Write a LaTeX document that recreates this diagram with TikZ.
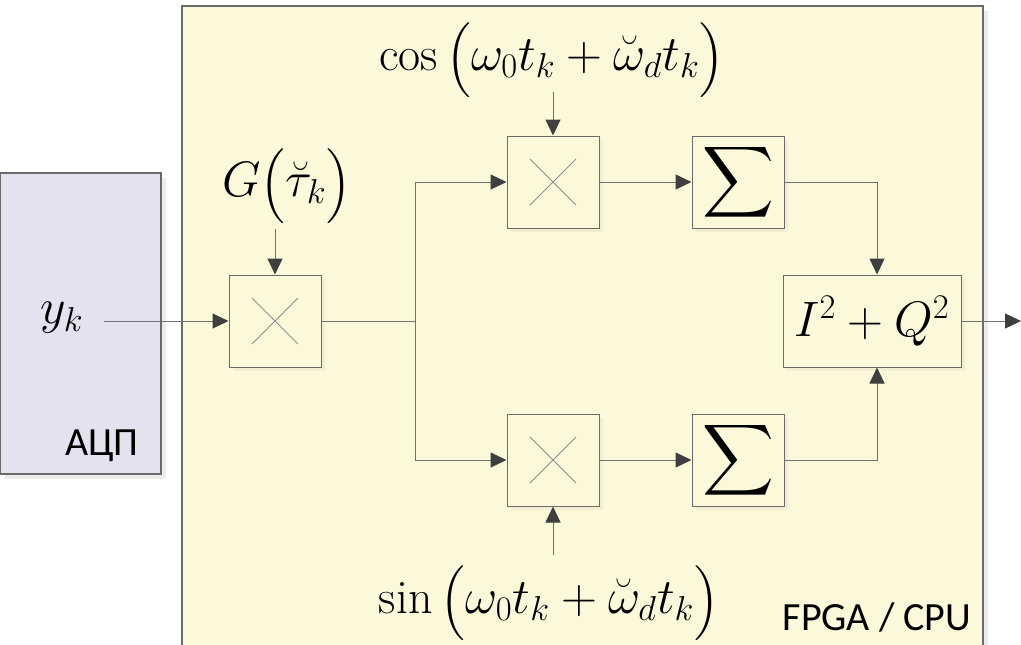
\documentclass[tikz,border=0pt]{standalone}
\usepackage{amsmath}
\usepackage{fontspec}
\newfontfamily\cpufont{Carlito}
\usepackage{tikz}
\usetikzlibrary{arrows.meta,shadows}
\definecolor{fpgafill}{HTML}{FCF8DA}
\definecolor{adcfill}{HTML}{E4E2EE}
\definecolor{framegray}{HTML}{6B6B6B}
\definecolor{wiregray}{HTML}{707070}
\definecolor{tipgray}{HTML}{3F3F3F}
\tikzset{
  panel/.style={draw=framegray, line width=0.6pt,
    drop shadow={shadow xshift=2.5pt, shadow yshift=-2.5pt, opacity=0.15}},
  block/.style={draw=framegray, fill=fpgafill, line width=0.5pt,
    minimum size=46pt, inner sep=0pt, font=\fontsize{24}{28}\selectfont,
    drop shadow={shadow xshift=2pt, shadow yshift=-2pt, opacity=0.08}},
  mult/.style={block, path picture={
      \draw[wiregray!80, line width=0.4pt]
        ([shift={(-11.5pt,-11.5pt)}]path picture bounding box.center) -- ++(23pt,23pt)
        ([shift={(-11.5pt,11.5pt)}]path picture bounding box.center) -- ++(23pt,-23pt);}},
  wire/.style={draw=wiregray, line width=0.5pt},
  sig/.style={wire, -{Triangle[length=8pt,width=7.5pt,color=tipgray]}},
  mathlbl/.style={font=\fontsize{24}{28}\selectfont, inner sep=0pt},
  cpulbl/.style={font=\cpufont\fontsize{20}{22}\selectfont, inner sep=0pt}
}
% parentheses of the labels
\newcommand{\lpar}{\mbox{\fontsize{21}{30}\selectfont$\Big($}}
\newcommand{\rpar}{\mbox{\fontsize{21}{30}\selectfont$\Big)$}}

\begin{document}
\begin{tikzpicture}[x=0.5pt, y=-0.5pt]

  \useasboundingbox (0,0) rectangle (1021,644);

  % FPGA / CPU area and ADC
  \path[panel, fill=fpgafill] (182,6) rectangle (983,670);
  \path[panel, fill=adcfill] (0,173) rectangle (161,474);
  \node[cpulbl] (adc) at (102,446) {АЦП};
  \node[cpulbl] (cpu) at (877,617) {FPGA / CPU};

  % blocks
  \node[mult] (mulg) at (275,321) {};
  \node[mult] (mulc) at (553,182) {};
  \node[mult] (muls) at (553,460) {};
  \node[block] (sumc) at (738,182) {$\displaystyle\sum$};
  \node[block] (sums) at (738,460) {$\displaystyle\sum$};
  \node[block, minimum width=89pt] (energy) at (872,321) {$I^{2}+Q^{2}$};

  % labels
  \node[mathlbl] (yk) at (62,318) {$y_k$};
  \node[mathlbl] (glbl) at (287,186) {$G\lpar\breve{\tau}_k\rpar$};
  \node[mathlbl] (coslbl) at (552,60) {$\cos\lpar\omega_0 t_k+\breve{\omega}_d t_k\rpar$};
  \node[mathlbl] (sinlbl) at (549,603) {$\sin\lpar\omega_0 t_k+\breve{\omega}_d t_k\rpar$};

  % free ends
  \coordinate (ykin) at (104,321);
  \coordinate (gin) at (275,229);
  \coordinate (cosin) at (553,92);
  \coordinate (sinin) at (553,555);
  \coordinate (split) at (415,321);
  \coordinate (out) at (1021,321);

  % connections
  \draw[sig] (ykin) -- (mulg.west);
  \draw[sig] (gin) -- (mulg.north);
  \draw[wire] (mulg.east) -- (split);
  \draw[sig] (split) |- (mulc.west);
  \draw[sig] (split) |- (muls.west);
  \draw[sig] (cosin) -- (mulc.north);
  \draw[sig] (sinin) -- (muls.south);
  \draw[sig] (mulc.east) -- (sumc.west);
  \draw[sig] (muls.east) -- (sums.west);
  \draw[sig] (sumc.east) -| ([xshift=2.5pt]energy.north);
  \draw[sig] (sums.east) -| ([xshift=2.5pt]energy.south);
  \draw[sig] (energy.east) -- (out);

\end{tikzpicture}
\end{document}
